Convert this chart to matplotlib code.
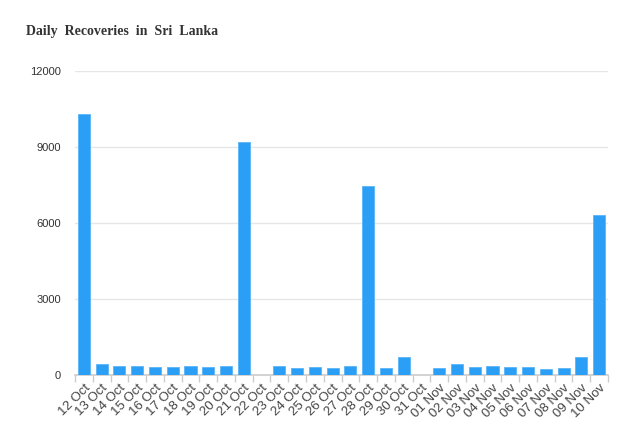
import numpy as np
import matplotlib.pyplot as plt

# daily recoveries, 12 Oct - 10 Nov
dates = ["12 Oct", "13 Oct", "14 Oct", "15 Oct", "16 Oct", "17 Oct", "18 Oct",
         "19 Oct", "20 Oct", "21 Oct", "22 Oct", "23 Oct", "24 Oct", "25 Oct",
         "26 Oct", "27 Oct", "28 Oct", "29 Oct", "30 Oct", "31 Oct",
         "01 Nov", "02 Nov", "03 Nov", "04 Nov", "05 Nov", "06 Nov", "07 Nov",
         "08 Nov", "09 Nov", "10 Nov"]
recoveries = [10300, 430, 355, 345, 330, 300, 350, 330, 350, 9200,
              0, 350, 290, 300, 290, 350, 7470, 290, 720, 0,
              280, 430, 330, 350, 330, 330, 250, 280, 700, 6300]
yticks = [0, 3000, 6000, 9000, 12000]

plt.rcParams['font.family'] = ['Liberation Sans', 'DejaVu Sans']

fig = plt.figure(figsize=(6.33, 4.32), dpi=100)
ax = fig.add_axes([0.1185, 0.132, 0.842, 0.7036])

x = np.arange(len(dates))
ax.bar(x, recoveries, width=0.68, color="#2b9ef6", edgecolor="#5ab4f8",
       linewidth=0.6, zorder=3)

ax.set_xlim(-0.5, len(dates) - 0.5)
ax.set_ylim(0, 12000)
ax.set_yticks(yticks)
ax.set_yticklabels([str(v) for v in yticks])
ax.grid(axis="y", color="#e6e6e6", linewidth=1, zorder=0)

# ticks at the category boundaries, labels at the centres
ax.set_xticks(np.arange(len(dates) + 1) - 0.5)
ax.set_xticklabels([])
ax.set_xticks(x, minor=True)
ax.set_xticklabels(dates, minor=True, rotation=45, ha="right",
                   rotation_mode="anchor", fontsize=9.5, color="#444444")
ax.tick_params(axis="x", which="major", length=5, color="#cccccc", width=1)
ax.tick_params(axis="x", which="minor", length=0, pad=5)
ax.tick_params(axis="y", length=0, labelsize=8, labelcolor="#333333", pad=10)

for s in ["top", "right", "left"]:
    ax.spines[s].set_visible(False)
ax.spines["bottom"].set_color("#cccccc")
ax.spines["bottom"].set_linewidth(1.2)

fig.text(0.041, 0.928, "Daily  Recoveries  in  Sri  Lanka", family="Liberation Serif",
         fontweight="bold", fontsize=10, color="#333333", va="center")

fig.savefig("out.png", dpi=100)
